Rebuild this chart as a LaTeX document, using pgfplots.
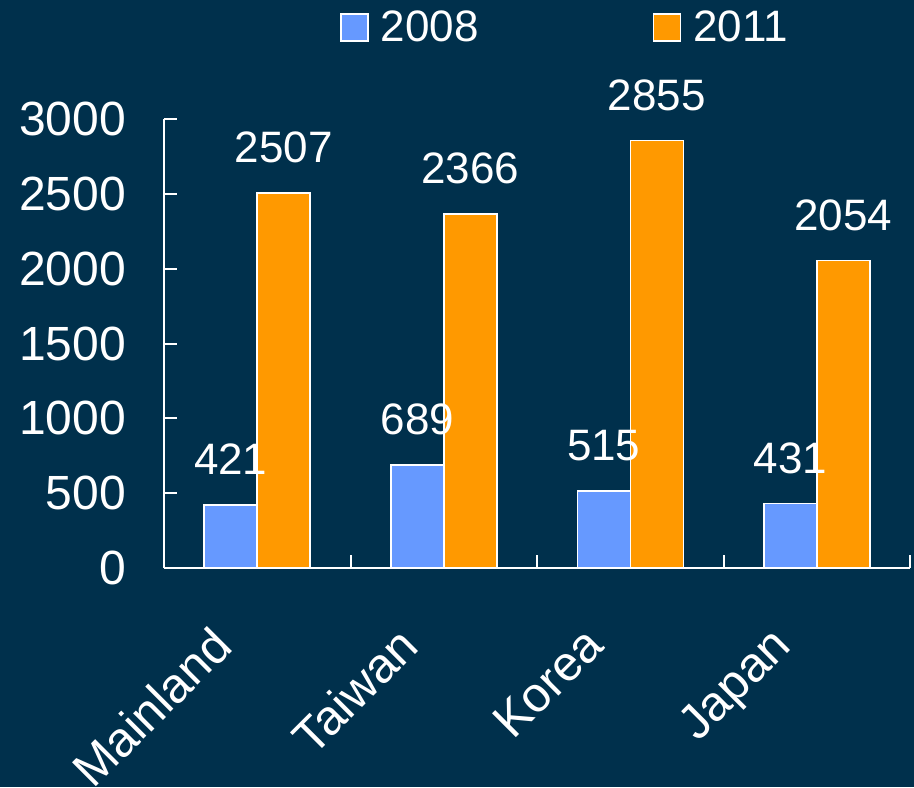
\documentclass[border=0pt]{standalone}
\usepackage{fontspec}
\setmainfont{Liberation Sans}
\usepackage{xcolor}
\usepackage{pgfplots}
\pgfplotsset{compat=1.18}
\definecolor{bg}{HTML}{00304C}
\definecolor{bblue}{HTML}{6699FF}
\definecolor{borange}{HTML}{FF9900}

\begin{document}
\begin{tikzpicture}
\path[use as bounding box, fill=bg] (-82pt,-109.5pt) rectangle (375pt,284pt);
\begin{axis}[
  at={(0,0)}, anchor=south west,
  width=373pt, height=224.5pt, scale only axis,
  ybar=0pt, bar width=26.5pt,
  xmin=-0.5, xmax=3.5, ymin=0, ymax=3000,
  axis x line=bottom, axis y line=left,
  axis line style={white, line width=1pt, -},
  every tick/.style={white, line width=1pt},
  tick align=inside,
  major tick length=6.5pt,
  xtick={0.5,1.5,2.5,3.5}, xticklabels={},
  extra x ticks={0,1,2,3},
  extra x tick labels={Mainland,Taiwan,Korea,Japan},
  extra x tick style={major tick length=0pt},
  xticklabel style={xshift=-24pt, yshift=-25pt, rotate=45, anchor=north east, font=\fontsize{24.5}{28}\selectfont, text=white, inner sep=2pt},
  ytick={0,500,...,3000},
  yticklabel style={font=\fontsize{24}{28}\selectfont, text=white, xshift=-15.5pt},
  /pgf/number format/assume math mode=true,
  /pgf/number format/1000 sep={},
  nodes near coords,
  every node near coord/.append style={font=\fontsize{22}{26}\selectfont, text=white, anchor=base, inner sep=0pt, yshift=15pt},
  legend columns=2,
  legend style={at={(0.236,1.204)}, anchor=west, draw=none, fill=none, inner sep=0pt,
    font=\fontsize{22}{26}\selectfont, text=white,
    /tikz/every even column/.append style={column sep=81pt},
    nodes={inner xsep=6pt}},
  legend image code/.code={\draw[#1, line width=0.75pt] (0pt,-6.75pt) rectangle (13.5pt,6.75pt);},
  clip=false,
]
\addplot[fill=bblue, draw=white, line width=0.75pt] coordinates {(0,421) (1,689) (2,515) (3,431)};
\addlegendentry{2008}
\addplot[fill=borange, draw=white, line width=0.75pt] coordinates {(0,2507) (1,2366) (2,2855) (3,2054)};
\addlegendentry{2011}
\end{axis}
\end{tikzpicture}
\end{document}
